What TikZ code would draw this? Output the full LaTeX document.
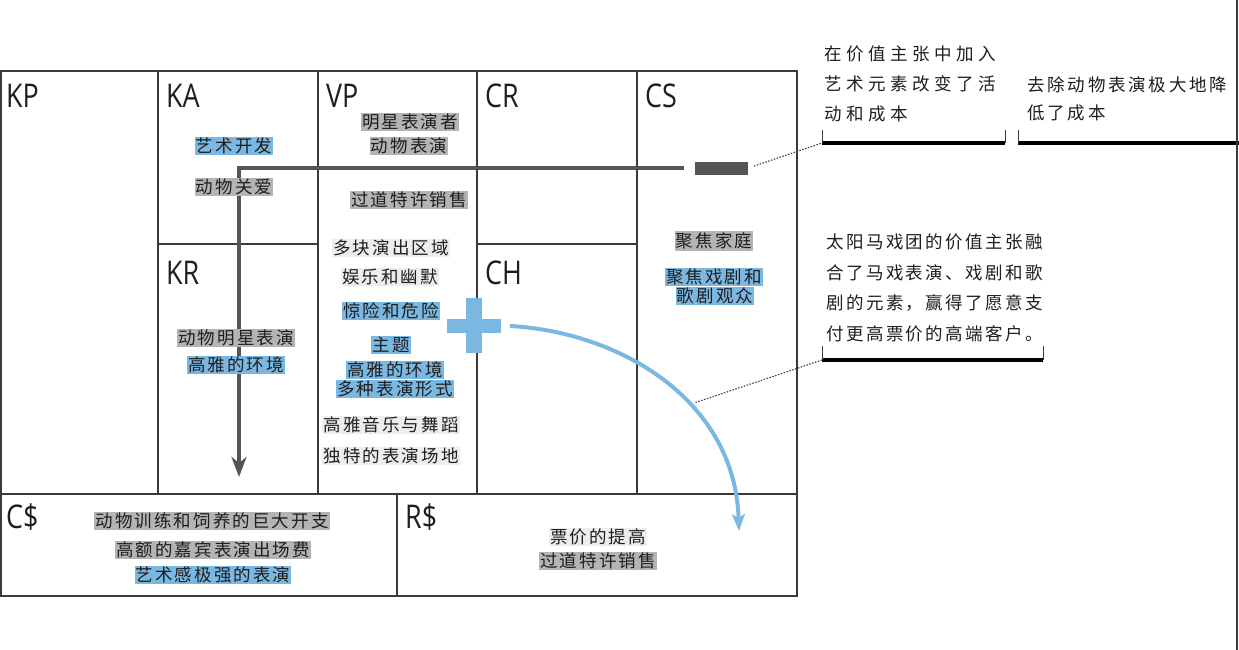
\documentclass[tikz,border=0pt]{standalone}
\usepackage{fontspec}
\setmainfont{Open Sans}
\newfontfamily\cjkcell{Noto Sans CJK SC}[LetterSpace=12]
\newfontfamily\cjkannoA{Noto Sans CJK SC}[LetterSpace=26]
\newfontfamily\cjkannoB{Noto Sans CJK SC}[LetterSpace=16]
\newfontfamily\cjkannoC{Noto Sans CJK SC}[LetterSpace=14]
\newfontfamily\labfont{Open Sans}
\usetikzlibrary{arrows.meta}
\definecolor{hlgray}{HTML}{B4B4B4}
\definecolor{hlblue}{HTML}{7AB8E2}
\definecolor{hllight}{HTML}{EDEDED}
\definecolor{txt}{HTML}{1E1E1E}
\definecolor{gridcol}{HTML}{3A3A3A}
\definecolor{darkline}{HTML}{555555}
\newcommand\lblbox[1]{\scalebox{0.84}[1.02]{#1}}
\tikzset{
  cell/.style={draw=gridcol, line width=1.2pt, inner sep=0pt},
  lab/.style={font=\fontsize{32}{36}\selectfont\labfont, text=txt, inner sep=0pt, anchor=base west},
  hlbase/.style={font=\fontsize{17.5}{19}\selectfont\cjkcell, text=txt, inner xsep=1pt, inner ysep=1.3pt},
  hlg/.style={hlbase, fill=hlgray},
  hlb/.style={hlbase, fill=hlblue},
  hll/.style={hlbase, fill=hllight},
  anno/.style={text=txt, inner sep=0pt, align=left, anchor=north west},
  grayline/.style={draw=darkline, line width=3.5pt},
  dotline/.style={draw=gridcol, line width=1.1pt, dash pattern=on 1.5pt off 1.5pt},
  bracketline/.style={draw=black, line width=4.5pt},
  tickline/.style={draw=gridcol, line width=0.9pt},
  bluearrow/.style={draw=hlblue, line width=4pt, -{Stealth[length=17pt, width=13pt, inset=4pt]}}
}
\begin{document}
\begin{tikzpicture}[x=1pt, y=-1pt]
\useasboundingbox (0,0) rectangle (1239,650);
% canvas cells
\node[cell, minimum width=157, minimum height=423] (kp) at (79.5,282.5) {};
\node[cell, minimum width=160, minimum height=173] (ka) at (238,157.5) {};
\node[cell, minimum width=160, minimum height=250] (kr) at (238,369) {};
\node[cell, minimum width=159, minimum height=423] (vp) at (397.5,282.5) {};
\node[cell, minimum width=160, minimum height=173] (cr) at (557,157.5) {};
\node[cell, minimum width=160, minimum height=250] (ch) at (557,369) {};
\node[cell, minimum width=160, minimum height=423] (cs) at (717,282.5) {};
\node[cell, minimum width=396, minimum height=102] (cost) at (199,545) {};
\node[cell, minimum width=400, minimum height=102] (rev) at (597,545) {};
% labels
\node[lab] (kpl) at (6,108) {\lblbox{KP}};
\node[lab] (kal) at (166,108) {\lblbox{KA}};
\node[lab] (vpl) at (326,108) {\lblbox{VP}};
\node[lab] (crl) at (485,108) {\lblbox{CR}};
\node[lab] (csl) at (645,108) {\lblbox{CS}};
\node[lab] (krl) at (166,284) {\lblbox{KR}};
\node[lab] (chl) at (485,284) {\lblbox{CH}};
\node[lab] (cstl) at (6,528) {\lblbox{C\$}};
\node[lab] (revl) at (405,528) {\lblbox{R\$}};
% gray connector
\coordinate (corner) at (239,168);
\coordinate (hend) at (684,168);
\coordinate (vend) at (239,477);
\draw[grayline, -{Stealth[length=20pt, width=15pt, inset=6pt]}] (hend) -- (corner) -- (vend);
\node[fill=darkline, minimum width=53, minimum height=13, inner sep=0pt] (minus) at (721.5,168) {};
% cell texts
\node[hlb] (t-ka1) at (234,146) {艺术开发};
\node[hlg] (t-ka2) at (234,187) {动物关爱};
\node[hlg] (t-vp1) at (410,122) {明星表演者};
\node[hlg] (t-vp2) at (409,146) {动物表演};
\node[hlg] (t-vp3) at (409,200) {过道特许销售};
\node[hll] (t-vp4) at (391,248) {多块演出区域};
\node[hll] (t-vp5) at (390,277) {娱乐和幽默};
\node[hlb] (t-vp6) at (391,311) {惊险和危险};
\node[hlb] (t-vp7) at (391,345) {主题};
\node[hlb] (t-vp8) at (395,370) {高雅的环境};
\node[hlb] (t-vp9) at (395,389) {多种表演形式};
\node[hll] (t-vp10) at (391,425) {高雅音乐与舞蹈};
\node[hll] (t-vp11) at (391,456) {独特的表演场地};
\node[hlg] (t-kr1) at (236,338) {动物明星表演};
\node[hlb] (t-kr2) at (236,365) {高雅的环境};
\node[hlg] (t-cs1) at (714,241) {聚焦家庭};
\node[hlb] (t-cs2) at (714,277) {聚焦戏剧和};
\node[hlb] (t-cs3) at (715,296) {歌剧观众};
\node[hlg] (t-c1) at (212,521) {动物训练和饲养的巨大开支};
\node[hlg] (t-c2) at (213,550) {高额的嘉宾表演出场费};
\node[hlb] (t-c3) at (213,575) {艺术感极强的表演};
\node[hll] (t-r1) at (598,537) {票价的提高};
\node[hlg] (t-r2) at (598,561) {过道特许销售};
% plus sign
\fill[hlblue] (447,319) rectangle (501,333);
\fill[hlblue] (466,298) rectangle (482,353);
\coordinate (cstart) at (510,326);
\coordinate (cend) at (739,531);
\draw[bluearrow] (cstart) .. controls (620,332) and (735,400) .. (cend);
% annotation brackets
\coordinate (b1l) at (822,143);
\coordinate (b1r) at (1005,143);
\coordinate (b2l) at (1018,143);
\coordinate (b2r) at (1239,143);
\coordinate (b3l) at (822,360);
\coordinate (b3r) at (1043,360);
\coordinate (d2end) at (694,403);
\draw[bracketline] (b1l) -- (b1r);
\draw[bracketline] (b2l) -- (b2r);
\draw[bracketline] (b3l) -- (b3r);
\draw[tickline] (b1l) -- ++(0,-13);
\draw[tickline] (b1r) -- ++(0,-13);
\draw[tickline] (b2l) -- ++(0,-13);
\draw[tickline] (b3l) -- ++(0,-14);
\draw[tickline] (b3r) -- ++(0,-14);
\draw[dotline, shorten <=6pt] (minus.east) -- (b1l);
\draw[dotline] (b3l) -- (d2end);
% annotation texts
\node[anno, font=\fontsize{17.5}{30}\selectfont\cjkannoA] (note1) at (824,46) {在价值主张中加入\\艺术元素改变了活\\动和成本};
\node[anno, font=\fontsize{17.5}{28}\selectfont\cjkannoB] (note2) at (1027,76) {去除动物表演极大地降\\低了成本};
\node[anno, font=\fontsize{17.5}{30.5}\selectfont\cjkannoC] (note3) at (826,234) {太阳马戏团的价值主张融\\合了马戏表演、戏剧和歌\\剧的元素，赢得了愿意支\\付更高票价的高端客户。};
% right border
\draw[line width=2pt, draw=gridcol] (1237,0) -- (1237,650);
\end{tikzpicture}
\end{document}
